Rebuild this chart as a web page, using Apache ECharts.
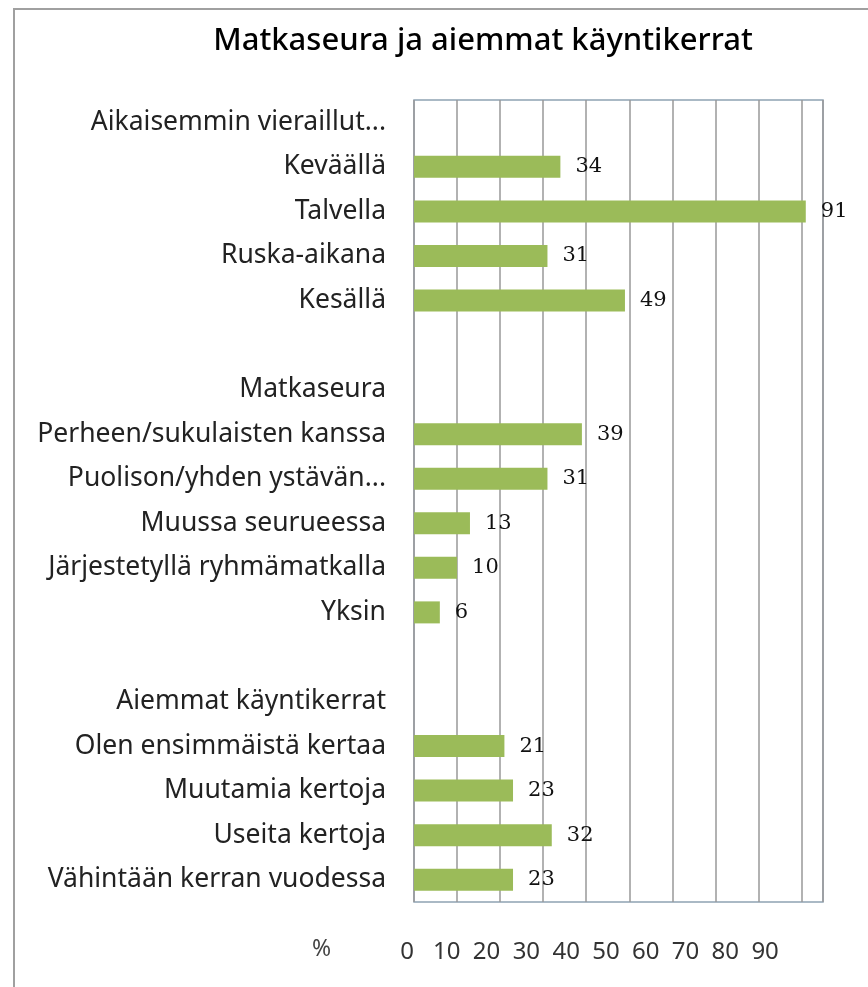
<!DOCTYPE html>
<html>
<head>
<meta charset="utf-8">
<script src="https://cdn.jsdelivr.net/npm/echarts@6/dist/echarts.min.js"></script>
<style>
html, body { margin: 0; padding: 0; background: #fff; }
#chart { width: 868px; height: 987px; }
</style>
</head>
<body>
<div id="chart"></div>
<script>
var categories = [
  'Aikaisemmin vieraillut...', 'Keväällä', 'Talvella', 'Ruska-aikana', 'Kesällä',
  ' ',
  'Matkaseura', 'Perheen/sukulaisten kanssa', 'Puolison/yhden ystävän...',
  'Muussa seurueessa', 'Järjestetyllä ryhmämatkalla', 'Yksin',
  '  ',
  'Aiemmat käyntikerrat', 'Olen ensimmäistä kertaa', 'Muutamia kertoja',
  'Useita kertoja', 'Vähintään kerran vuodessa'
];
var values = [null, 34, 91, 31, 49, null, null, 39, 31, 13, 10, 6, null, null, 21, 23, 32, 23];
var xTicks = [0, 10, 20, 30, 40, 50, 60, 70, 80, 90];

var chart = echarts.init(document.getElementById('chart'));
chart.setOption({
  animation: false,
  title: {
    text: 'Matkaseura ja aiemmat käyntikerrat',
    left: 478, top: 21, textAlign: 'center',
    textStyle: { fontFamily: 'Noto Sans', fontSize: 31, fontWeight: 500, color: '#000' }
  },
  graphic: [
    { type: 'rect', shape: { x: 14, y: 9, width: 900, height: 1000 },
      style: { fill: 'none', stroke: '#a0a0a0', lineWidth: 2 }, silent: true },
    { type: 'text', left: 312, top: 938,
      style: { text: '%', font: '23px "Noto Sans"', fill: '#444' } }
  ],
  grid: [
    { left: 414, right: 45, top: 100, bottom: 85, show: true, borderColor: '#8fa3b3', borderWidth: 1.5 },
    // label strip: the tick labels sit slightly tighter than the gridlines in the original
    { left: 407, right: 83, top: 100, bottom: 85 }
  ],
  xAxis: [{
    type: 'value', min: 0, max: 95, interval: 10,
    axisLine: { show: false }, axisTick: { show: false },
    splitLine: { lineStyle: { color: '#999', width: 1.5 } },
    axisLabel: { show: false }
  }, {
    type: 'value', gridIndex: 1, min: 0, max: 95, interval: 10,
    axisLine: { show: false }, axisTick: { show: false }, splitLine: { show: false },
    axisLabel: {
      showMaxLabel: false, margin: 38, color: '#333', fontFamily: 'Noto Sans', fontSize: 24,
      formatter: function (v) { return xTicks.indexOf(v) >= 0 ? String(v) : ''; }
    }
  }],
  yAxis: [{
    type: 'category', inverse: true, data: categories,
    axisLine: { show: false }, axisTick: { show: false },
    axisLabel: { margin: 28, color: '#222', fontFamily: 'Noto Sans', fontSize: 26.5 }
  }, {
    type: 'category', gridIndex: 1, data: categories, show: false
  }],
  series: [{
    type: 'bar', data: values, barWidth: 22,
    itemStyle: { color: '#9bbb59' },
    label: {
      show: true, position: 'right', distance: 15, color: '#111',
      fontFamily: 'DejaVu Serif', fontSize: 21
    }
  }]
});
</script>
</body>
</html>
